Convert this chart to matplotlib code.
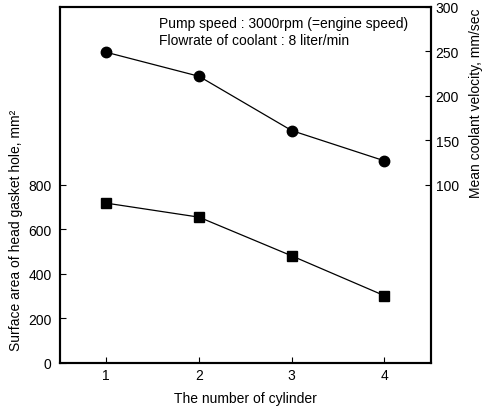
import matplotlib.pyplot as plt

plt.rcParams['font.family'] = ['Liberation Sans', 'DejaVu Sans']

cylinders = [1, 2, 3, 4]
# surface area of head gasket hole (mm^2), left axis
area = [718, 655, 481, 302]
# mean coolant velocity (mm/sec), right axis
velocity = [249, 222, 161, 127]

fig = plt.figure(figsize=(4.83, 4.14), dpi=100)
ax = fig.add_axes([0.124, 0.121, 0.768, 0.860])
ax2 = ax.twinx()

ax.plot(cylinders, area, color='black', lw=0.9, marker='s', ms=7, mfc='black', mec='black')
ax2.plot(cylinders, velocity, color='black', lw=0.9, marker='o', ms=7.5, mfc='black', mec='black')

ax.set_xlim(0.5, 4.5)
ax.set_ylim(0, 1600)
ax2.set_ylim(-100, 300)

ax.set_xticks(cylinders)
ax.set_yticks([0, 200, 400, 600, 800])
ax2.set_yticks([100, 150, 200, 250, 300])

for a in (ax, ax2):
    a.tick_params(direction='in', length=4, width=0.8, labelsize=10)
    for s in a.spines.values():
        s.set_linewidth(1.5)
ax.tick_params(axis='y', pad=6)
ax.tick_params(axis='x', pad=4)

ax.set_xlabel('The number of cylinder', fontsize=10)
ax.set_ylabel('Surface area of head gasket hole, mm²', fontsize=10)
ax2.set_ylabel('Mean coolant velocity, mm/sec', fontsize=10)
ax.xaxis.set_label_coords(0.5, -0.079)
ax.yaxis.set_label_coords(-0.100, 0.376)
ax2.yaxis.set_label_coords(1.102, 0.733)

ax.text(0.268, 0.975, 'Pump speed : 3000rpm (=engine speed)\nFlowrate of coolant : 8 liter/min',
        transform=ax.transAxes, ha='left', va='top', fontsize=10, linespacing=1.3)

plt.savefig('out.png', dpi=100)
